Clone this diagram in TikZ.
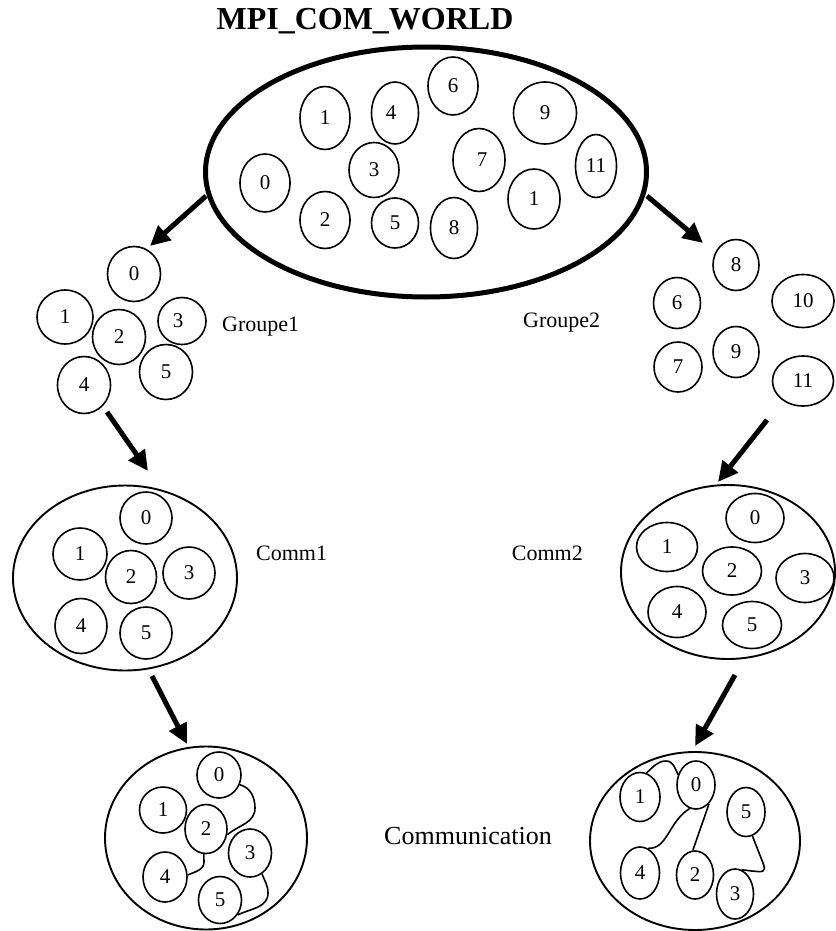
\documentclass[tikz,border=0pt]{standalone}
\usepackage{fontspec}
\setmainfont{Liberation Serif}
\usetikzlibrary{shapes.geometric,arrows.meta}

\tikzset{
  proc/.style={ellipse, draw, line width=1.6pt, inner sep=0pt,
    font=\fontsize{21}{21}\selectfont},
  pool/.style={ellipse, draw, line width=1.9pt, inner sep=0pt},
  world/.style={ellipse, draw, line width=5pt, inner sep=0pt},
  flow/.style={line width=5pt, -{Triangle[length=20pt,width=19pt]}},
  link/.style={line width=1.6pt},
  lbl/.style={font=\fontsize{22}{22}\selectfont, inner sep=0pt},
}
% process: name, x, y, width, height, rank
\newcommand\proc[6]{\node[proc, minimum width=#4pt, minimum height=#5pt] (#1) at (#2,#3) {#6};}

\begin{document}
\begin{tikzpicture}[x=1pt,y=-1pt]
\useasboundingbox (0,0) rectangle (835,931);

% ---- MPI_COMM_WORLD ----
\node[font=\fontsize{32}{32}\selectfont\bfseries, inner sep=0pt] (title) at (365,21) {MPI\_COM\_WORLD};
\node[world, minimum width=441pt, minimum height=250pt] (W) at (426,172) {};
\proc{w0}{265}{183}{50}{58}{0}
\proc{w1}{325}{118}{50}{63}{1}
\proc{w4}{395}{113}{47}{62}{\hspace{-8pt}4}
\proc{w6}{453}{86}{50}{58}{6}
\proc{w9}{545}{113}{63}{62}{9}
\proc{w3}{374}{170}{50}{55}{3}
\proc{w7}{479}{160}{52}{63}{\hspace{6pt}7}
\proc{w11}{596}{166}{41}{63}{11}
\proc{w2}{325}{220}{50}{57}{2}
\proc{w5}{395}{223}{47}{50}{5}
\proc{w8}{454}{228}{47}{61}{8}
\proc{w1b}{534}{199}{52}{60}{1}

% ---- Groupe1 ----
\proc{g0}{134}{274}{53}{55}{0}
\proc{g1}{65}{317}{56}{54}{1}
\proc{g2}{119}{337}{53}{55}{2}
\proc{g3}{182}{321}{48}{47}{\hspace{-8pt}3}
\proc{g5}{166}{372}{53}{55}{5}
\proc{g4}{84}{385}{53}{57}{4}
\node[lbl, anchor=west] (gl1) at (222,327) {Groupe1};

% ---- Groupe2 ----
\proc{h8}{736}{265}{46}{51}{8}
\proc{h6}{677}{303}{47}{51}{6}
\proc{h10}{803}{301}{62}{53}{10}
\proc{h9}{736}{352}{46}{51}{9}
\proc{h7}{678}{367}{48}{50}{7}
\proc{h11}{803}{381}{61}{50}{11}
\node[lbl, anchor=west] (gl2) at (523,323) {Groupe2};

% ---- Comm1 ----
\node[pool, minimum width=224pt, minimum height=185pt] (C1) at (125,578) {};
\proc{a0}{146}{518}{52}{52}{0}
\proc{a1}{80}{554}{54}{52}{1}
\proc{a2}{131}{577}{51}{53}{2}
\proc{a3}{189}{573}{52}{52}{3}
\proc{a4}{81}{626}{52}{55}{4}
\proc{a5}{146}{633}{52}{52}{5}
\node[lbl, anchor=west] (cl1) at (256,553) {Comm1};

% ---- Comm2 ----
\node[pool, minimum width=214pt, minimum height=174pt] (C2) at (728,572) {};
\proc{b0}{755}{518}{58}{49}{0}
\proc{b1}{667}{547}{61}{49}{1}
\proc{b2}{732}{571}{59}{48}{2}
\proc{b3}{805}{578}{58}{49}{3}
\proc{b4}{677}{612}{58}{51}{4}
\proc{b5}{752}{625}{59}{47}{5}
\node[lbl, anchor=east] (cl2) at (583,553) {Comm2};

% ---- Communication in Comm1 ----
\node[pool, minimum width=202pt, minimum height=183pt] (K1) at (206,838) {};
\proc{p0}{219}{775}{44}{46}{0}
\proc{p1}{163}{810}{47}{46}{1}
\proc{p2}{206}{829}{42}{49}{2}
\proc{p3}{250}{853}{43}{48}{3}
\proc{p4}{165}{877}{44}{50}{4}
\proc{p5}{220}{900}{43}{47}{5}
\draw[link] (p0.-25) to[out=-15,in=90] (255,808) to[out=-90,in=40] (p2.-15);
\draw[link] (p2.-95) -- (204,862) to[out=-90,in=25] (p4.5);
\draw[link] (p3.-60) to[out=-70,in=90] (268,893) to[out=-90,in=25] (p5.-40);

% ---- Communication in Comm2 ----
\node[pool, minimum width=210pt, minimum height=178pt] (K2) at (695,841) {};
\proc{q1}{640}{797}{40}{49}{1}
\proc{q0}{696}{785}{38}{48}{0}
\proc{q5}{746}{812}{38}{49}{5}
\proc{q4}{640}{873}{39}{52}{4}
\proc{q2}{695}{875}{37}{48}{2}
\proc{q3}{735}{894}{37}{50}{3}
\draw[link] (q1.75) to[out=40,in=180] (666,761) to[out=0,in=115] (q0.150);
\draw[link] (q0.-105) .. controls (668,822) and (668,849) .. (q4.72);
\draw[link] (q0.-55) -- (q2.95);
\draw[link] (q5.-75) -- (763,863) .. controls (767,873) and (762,872) .. (752,871) -- (q3.75);

\node[font=\fontsize{26}{26}\selectfont, inner sep=0pt] (comm) at (468,836) {Communication};

% ---- flow arrows ----
\coordinate (f1s) at (206,196);
\coordinate (f1e) at (150,246);
\coordinate (f2s) at (647,196);
\coordinate (f2e) at (703,243);
\coordinate (f3s) at (107,412);
\coordinate (f3e) at (148,471);
\coordinate (f4s) at (767,420);
\coordinate (f4e) at (718,482);
\coordinate (f5s) at (152,676);
\coordinate (f5e) at (187,744);
\coordinate (f6s) at (735,675);
\coordinate (f6e) at (695,746);
\draw[flow] (f1s) -- (f1e);
\draw[flow] (f2s) -- (f2e);
\draw[flow] (f3s) -- (f3e);
\draw[flow] (f4s) -- (f4e);
\draw[flow] (f5s) -- (f5e);
\draw[flow] (f6s) -- (f6e);
\end{tikzpicture}
\end{document}
